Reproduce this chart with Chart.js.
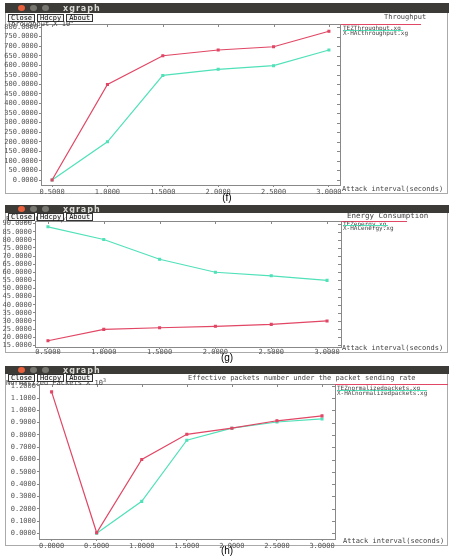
<!DOCTYPE html>
<html>
<head>
<meta charset="utf-8">
<script src="https://cdn.jsdelivr.net/npm/chart.js@4.4.1/dist/chart.umd.min.js"></script>
<style>
    body { margin: 0; width: 454px; height: 557px; background: #fff; position: relative; overflow: hidden; }
    .win { position: absolute; left: 5px; width: 443px; border: 1px solid #aaa; background: #fff; box-sizing: border-box; }
    canvas { position: absolute; left: 0; }
    .bar { position: absolute; left: 5px; width: 444px; background: #3c3b37; z-index: 3; }
    .dot { position: absolute; top: 50%; width: 7px; height: 6px; margin-top: -3px; border-radius: 50%; background: #77766f; }
    .dot.red { background: #e8603c; }
    .bar .name { position: absolute; left: 58px; top: 50%; transform: translateY(-50%); font: bold 8px "DejaVu Sans"; letter-spacing: 1px; color: #d8d8d4; }
    .btns { position: absolute; left: 8px; z-index: 3; font: 7px "DejaVu Sans Mono"; line-height: 6px; }
    .btns span { display: inline-block; border: 1px solid #333; background: #f6f6f6; padding: 0 2px; margin-right: 2px; }
    .txt { position: absolute; z-index: 2; font: 7px "DejaVu Sans Mono"; color: #444; white-space: nowrap; line-height: 7px; }
    .leg { font-size: 6px; line-height: 6px; }
    .line { position: absolute; z-index: 2; height: 1px; }
    .cap { position: absolute; z-index: 2; font: 10px "Liberation Sans"; color: #000; width: 20px; text-align: center; left: 217px; }
</style>
</head>
<body>
<div class="win" style="top:3px;height:191px;"></div>
<div class="win" style="top:205px;height:148px;"></div>
<div class="win" style="top:366px;height:180px;"></div>

<canvas id="chartF" width="454" height="200" style="top:0px"></canvas>
<canvas id="chartG" width="454" height="160" style="top:200px"></canvas>
<canvas id="chartH" width="454" height="197" style="top:360px"></canvas>

<!-- window decorations (f) -->
<div class="bar" style="top:3px;height:10px;"><span class="dot red" style="left:13px"></span><span class="dot" style="left:25px"></span><span class="dot" style="left:37px"></span><span class="name">xgraph</span></div>
<div class="txt" style="left:7px;top:18px;">Throughput X 10<sup style="font-size:5px">3</sup></div>
<div class="btns" style="top:14px;"><span>Close</span><span>Hdcpy</span><span>About</span></div>
<div class="txt" style="left:384px;top:14px;">Throughput</div>
<div class="line" style="left:341px;top:24px;width:80px;background:rgb(225,70,100);"></div>
<div class="txt leg" style="left:343px;top:25px;">TEZThroughput.xg</div>
<div class="line" style="left:343px;top:30px;width:60px;background:rgb(80,225,185);"></div>
<div class="txt leg" style="left:343px;top:30px;">X-HACthroughput.xg</div>
<div class="txt" style="left:342px;top:186px;">Attack interval(seconds)</div>
<div class="cap" style="top:192px;">(f)</div>

<!-- window decorations (g) -->
<div class="bar" style="top:205px;height:8px;"><span class="dot red" style="left:13px"></span><span class="dot" style="left:25px"></span><span class="dot" style="left:37px"></span><span class="name">xgraph</span></div>
<div class="txt" style="left:6px;top:216px;">Energy Consumption</div>
<div class="btns" style="top:213px;"><span>Close</span><span>Hdcpy</span><span>About</span></div>
<div class="txt" style="left:347px;top:212px;font-size:7.5px;">Energy Consumption</div>
<div class="line" style="left:341px;top:221px;width:66px;background:rgb(225,70,100);"></div>
<div class="txt leg" style="left:343px;top:221px;">TEZenergy.xg</div>
<div class="line" style="left:343px;top:225px;width:45px;background:rgb(80,225,185);"></div>
<div class="txt leg" style="left:343px;top:225px;">X-HACenergy.xg</div>
<div class="txt" style="left:342px;top:345px;">Attack interval(seconds)</div>
<div class="cap" style="top:352px;">(g)</div>

<!-- window decorations (h) -->
<div class="bar" style="top:366px;height:8px;"><span class="dot red" style="left:13px"></span><span class="dot" style="left:25px"></span><span class="dot" style="left:37px"></span><span class="name">xgraph</span></div>
<div class="txt" style="left:6px;top:377px;">Normalized Packets X 10<sup style="font-size:5px">3</sup></div>
<div class="btns" style="top:374px;"><span>Close</span><span>Hdcpy</span><span>About</span></div>
<div class="txt" style="left:188px;top:375px;">Effective packets number under the packet sending rate</div>
<div class="line" style="left:335px;top:384px;width:113px;background:rgb(225,70,100);"></div>
<div class="txt leg" style="left:337px;top:385px;">TEZnormalizedpackets.xg</div>
<div class="line" style="left:337px;top:390px;width:90px;background:rgb(80,225,185);"></div>
<div class="txt leg" style="left:337px;top:390px;">X-HACnormalizedpackets.xg</div>
<div class="txt" style="left:343px;top:538px;">Attack interval(seconds)</div>
<div class="cap" style="top:545px;">(h)</div>

<script>
const attackIntervals = [0.5, 1.0, 1.5, 2.0, 2.5, 3.0];
const tezThroughput = [0, 500, 650, 680, 697, 778];
const hacThroughput = [0, 200, 547, 579, 598, 680];
const throughputTicks = [0, 50, 100, 150, 200, 250, 300, 350, 400, 450, 500, 550, 600, 650, 700, 750, 800];

const tezEnergy = [17.8, 24.8, 25.8, 26.7, 27.9, 30.0];
const hacEnergy = [88.0, 80.2, 68.0, 60.0, 57.8, 55.0];
const energyTicks = [15, 20, 25, 30, 35, 40, 45, 50, 55, 60, 65, 70, 75, 80, 85, 90];

const packetIntervals = [0.0, 0.5, 1.0, 1.5, 2.0, 2.5, 3.0];
const tezPackets = [1.15, 0.005, 0.6, 0.805, 0.855, 0.915, 0.955];
const hacPackets = [null, 0.0, 0.26, 0.757, 0.855, 0.905, 0.93];
const packetTicks = [0, 0.1, 0.2, 0.3, 0.4, 0.5, 0.6, 0.7, 0.8, 0.9, 1.0, 1.1, 1.2];

const xTicksFG = [0.5, 1.0, 1.5, 2.0, 2.5, 3.0];
const xTicksH = [0.0, 0.5, 1.0, 1.5, 2.0, 2.5, 3.0];

const red = "rgb(225,70,100)";
const green = "rgb(80,225,185)";
const tickFont = { family: "DejaVu Sans Mono", size: 7 };

// xgraph style frame with inward ticks on top and right
const framePlugin = {
    id: "frame",
    afterDraw(chart) {
        const ctx = chart.ctx;
        const a = chart.chartArea;
        ctx.save();
        ctx.strokeStyle = "#888";
        ctx.lineWidth = 1;
        ctx.strokeRect(Math.round(a.left) + 0.5, Math.round(a.top) + 0.5, Math.round(a.right - a.left), Math.round(a.bottom - a.top));
        ctx.beginPath();
        chart.scales.x.ticks.forEach(t => {
            const px = Math.round(chart.scales.x.getPixelForValue(t.value)) + 0.5;
            ctx.moveTo(px, a.top);
            ctx.lineTo(px, a.top + 3);
        });
        chart.scales.y.ticks.forEach(t => {
            const py = Math.round(chart.scales.y.getPixelForValue(t.value)) + 0.5;
            ctx.moveTo(a.right, py);
            ctx.lineTo(a.right - 3, py);
        });
        ctx.stroke();
        ctx.restore();
    }
};

function toPoints(xs, ys) {
    return xs.map((x, i) => ({ x: x, y: ys[i] })).filter(p => p.y !== null);
}

function series(label, xs, ys, color) {
    return {
        label: label,
        data: toPoints(xs, ys),
        borderColor: color,
        backgroundColor: color,
        borderWidth: 1.2,
        pointStyle: "rect",
        pointRadius: 1.3,
        tension: 0
    };
}

function makeChart(id, datasets, xr, yr, xTicks, yTicks, pad, yWidth, xHeight, xPad) {
    new Chart(document.getElementById(id), {
        type: "line",
        data: { datasets: datasets },
        plugins: [framePlugin],
        options: {
            responsive: false,
            animation: false,
            devicePixelRatio: 1,
            layout: { padding: pad },
            plugins: { legend: { display: false }, tooltip: { enabled: false } },
            scales: {
                x: {
                    type: "linear",
                    min: xr[0], max: xr[1],
                    afterBuildTicks: s => { s.ticks = xTicks.map(v => ({ value: v })); },
                    afterFit: s => { s.height = xHeight; },
                    border: { display: false },
                    grid: { drawOnChartArea: false, tickLength: 2, color: "#888" },
                    ticks: { font: tickFont, color: "#555", padding: xPad, maxRotation: 0, autoSkip: false, callback: v => v.toFixed(4) }
                },
                y: {
                    type: "linear",
                    min: yr[0], max: yr[1],
                    afterBuildTicks: s => { s.ticks = yTicks.map(v => ({ value: v })); },
                    afterFit: s => { s.width = yWidth; },
                    border: { display: false },
                    grid: { drawOnChartArea: false, tickLength: 2, color: "#888" },
                    ticks: { font: tickFont, color: "#555", padding: 1, autoSkip: false, callback: v => v.toFixed(4) }
                }
            }
        }
    });
}

makeChart("chartF",
    [series("TEZThroughput.xg", attackIntervals, tezThroughput, red),
     series("X-HACthroughput.xg", attackIntervals, hacThroughput, green)],
    [0.4, 3.1], [-26, 816], xTicksFG, throughputTicks,
    { top: 24, right: 114, bottom: 3, left: 0 }, 41, 12, 1);

makeChart("chartG",
    [series("TEZenergy.xg", attackIntervals, tezEnergy, red),
     series("X-HACenergy.xg", attackIntervals, hacEnergy, green)],
    [0.384, 3.125], [13.95, 91.6], xTicksFG, energyTicks,
    { top: 21, right: 113, bottom: 3, left: 0 }, 35, 10, -1);

makeChart("chartH",
    [series("TEZnormalizedpackets.xg", packetIntervals, tezPackets, red),
     series("X-HACnormalizedpackets.xg", packetIntervals, hacPackets, green)],
    [-0.14, 3.144], [-0.046, 1.214], xTicksH, packetTicks,
    { top: 24, right: 119, bottom: 6, left: 0 }, 39, 12, 1);
</script>
</body>
</html>
